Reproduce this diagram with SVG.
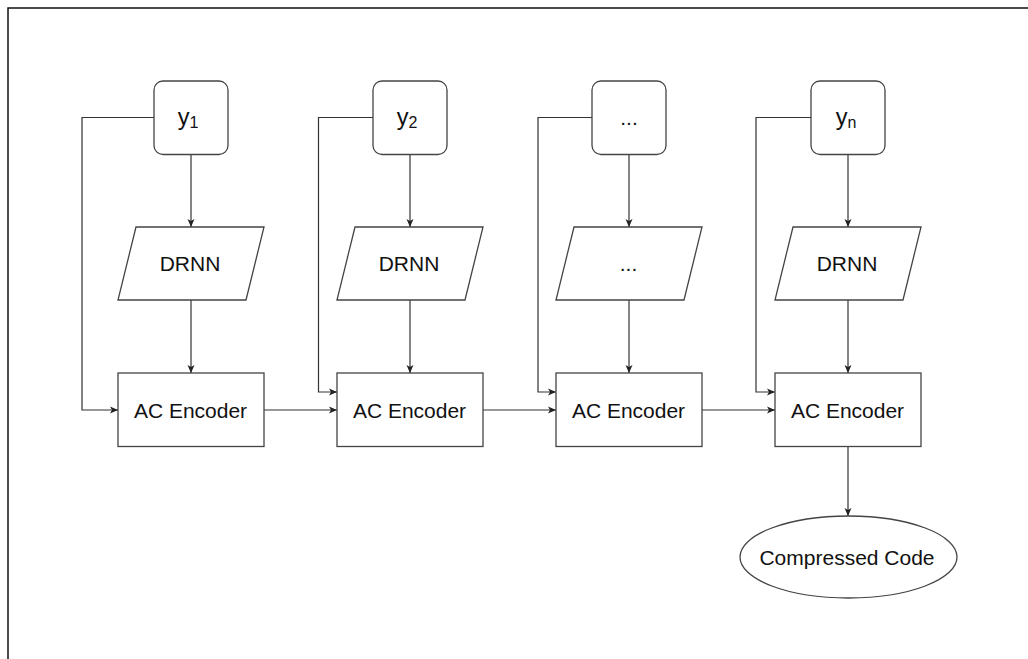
<svg xmlns="http://www.w3.org/2000/svg" width="1028" height="659" viewBox="0 0 1028 659">
  <defs>
    <marker id="arrow" markerUnits="userSpaceOnUse" markerWidth="10" markerHeight="10" refX="8" refY="4" orient="auto">
      <path d="M0,0.5 L8,4 L0,7.5 L2,4 Z" fill="#222222" stroke="none"/>
    </marker>
    <style>
      .shape { fill: #ffffff; stroke: #444444; stroke-width: 1.3; }
      .edge { fill: none; stroke: #333333; stroke-width: 1.2; marker-end: url(#arrow); }
      .label { font-family: "Liberation Sans", Arial, Helvetica, sans-serif; font-size: 21px; fill: #111111; text-anchor: middle; }
      .var { font-size: 23.5px; }
      .sub { font-size: 16px; }
      .frame { fill: none; stroke: #111111; stroke-width: 1.5; }
    </style>
  </defs>

  <rect width="1028" height="659" fill="#ffffff"/>
  <!-- page frame, running off the right and bottom edges -->
  <path class="frame" d="M8,659 V8 H1028"/>

  <!-- connectors -->
  <g id="connectors">
    <!-- input to predictor -->
    <path class="edge" d="M191,154.5 V227"/>
    <path class="edge" d="M410,154.5 V227"/>
    <path class="edge" d="M629,154.5 V227"/>
    <path class="edge" d="M848,154.5 V227"/>
    <!-- predictor to encoder -->
    <path class="edge" d="M191,300 V373"/>
    <path class="edge" d="M410,300 V373"/>
    <path class="edge" d="M629,300 V373"/>
    <path class="edge" d="M848,300 V373"/>
    <!-- symbol passed straight to encoder -->
    <path class="edge" d="M154,117.5 H82 V410 H118"/>
    <path class="edge" d="M373,117.5 H318.5 V392 H337"/>
    <path class="edge" d="M592,117.5 H538 V392 H556"/>
    <path class="edge" d="M811,117.5 H756 V392 H775"/>
    <!-- encoder state chain -->
    <path class="edge" d="M264,410 H337"/>
    <path class="edge" d="M483,410 H556"/>
    <path class="edge" d="M702,410 H775"/>
    <!-- final output -->
    <path class="edge" d="M848,446.5 V516"/>
  </g>

  <!-- inputs -->
  <g id="y1">
    <rect class="shape" x="154" y="81" width="74" height="73.5" rx="9"/>
    <text class="label var" x="188" y="124.5">y<tspan class="sub" dy="3.5">1</tspan></text>
  </g>
  <g id="y2">
    <rect class="shape" x="373" y="81" width="74" height="73.5" rx="9"/>
    <text class="label var" x="407" y="124.5">y<tspan class="sub" dy="3.5">2</tspan></text>
  </g>
  <g id="y-more">
    <rect class="shape" x="592" y="81" width="74" height="73.5" rx="9"/>
    <text class="label" x="629" y="124.5">...</text>
  </g>
  <g id="yn">
    <rect class="shape" x="811" y="81" width="74" height="73.5" rx="9"/>
    <text class="label var" x="846" y="124.5">y<tspan class="sub" dy="3.5">n</tspan></text>
  </g>

  <!-- predictors -->
  <g id="drnn1">
    <path class="shape" d="M136,227 H264 L246,300 H118 Z"/>
    <text class="label" x="190" y="271">DRNN</text>
  </g>
  <g id="drnn2">
    <path class="shape" d="M355,227 H483 L465,300 H337 Z"/>
    <text class="label" x="409" y="271">DRNN</text>
  </g>
  <g id="drnn-more">
    <path class="shape" d="M574,227 H702 L684,300 H556 Z"/>
    <text class="label" x="628.5" y="271">...</text>
  </g>
  <g id="drnn-n">
    <path class="shape" d="M793,227 H921 L903,300 H775 Z"/>
    <text class="label" x="847" y="271">DRNN</text>
  </g>

  <!-- arithmetic coding encoders -->
  <g id="enc1">
    <rect class="shape" x="118" y="373" width="146" height="73.5"/>
    <text class="label" x="190.5" y="418">AC Encoder</text>
  </g>
  <g id="enc2">
    <rect class="shape" x="337" y="373" width="146" height="73.5"/>
    <text class="label" x="409.5" y="418">AC Encoder</text>
  </g>
  <g id="enc3">
    <rect class="shape" x="556" y="373" width="146" height="73.5"/>
    <text class="label" x="628.5" y="418">AC Encoder</text>
  </g>
  <g id="enc-n">
    <rect class="shape" x="775" y="373" width="146" height="73.5"/>
    <text class="label" x="847.5" y="418">AC Encoder</text>
  </g>

  <!-- output -->
  <g id="compressed-code">
    <ellipse class="shape" cx="848.5" cy="557" rx="108.5" ry="41"/>
    <text class="label" x="847" y="564.5">Compressed Code</text>
  </g>
</svg>
